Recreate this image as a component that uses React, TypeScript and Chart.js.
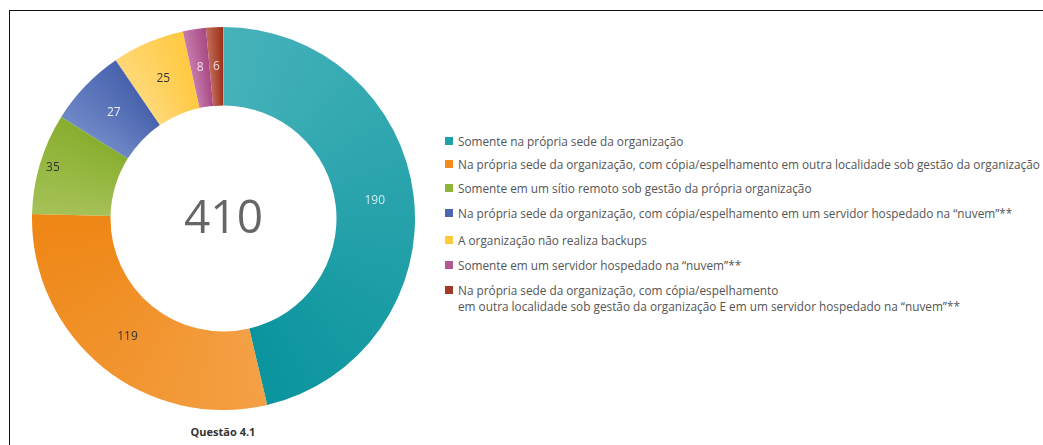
import React, { useEffect, useRef } from "react";
import { Chart, registerables } from "chart.js";

Chart.register(...registerables);

const categories: string[][] = [
  ["Somente na própria sede da organização"],
  ["Na própria sede da organização, com cópia/espelhamento em outra localidade sob gestão da organização"],
  ["Somente em um sítio remoto sob gestão da própria organização"],
  ["Na própria sede da organização, com cópia/espelhamento em um servidor hospedado na “nuvem”**"],
  ["A organização não realiza backups"],
  ["Somente em um servidor hospedado na “nuvem”**"],
  [
    "Na própria sede da organização, com cópia/espelhamento",
    "em outra localidade sob gestão da organização E em um servidor hospedado na “nuvem”**",
  ],
];
const values: number[] = [190, 119, 35, 27, 25, 8, 6];
const total = values.reduce((a, b) => a + b, 0);
const centerLabel = String(total);
const chartTitle = "Questão 4.1";

const lightColors = ["#46b2ba", "#f4a045", "#a5c257", "#6e87c6", "#ffd877", "#c47aaa", "#bf6a55"];
const darkColors = ["#0a949d", "#ee8614", "#88ae2e", "#4862ad", "#ffca42", "#a94a86", "#9c2f1a"];
const legendColors = ["#1fa1aa", "#f28a1e", "#8fb43a", "#4d66b0", "#ffc93c", "#b4568f", "#a33a28"];
const labelColors = [
  "rgba(255,255,255,0.78)",
  "#333333",
  "#333333",
  "rgba(255,255,255,0.9)",
  "#333333",
  "rgba(255,255,255,0.8)",
  "rgba(255,255,255,0.8)",
];

const FONT = "'Open Sans', sans-serif";

export default function App() {
  const ref = useRef<HTMLCanvasElement | null>(null);

  useEffect(() => {
    if (!ref.current) return;
    let cached: any = null;
    const getFill = (chart: any) => {
      if (cached) return cached;
      const ctx = chart.ctx as CanvasRenderingContext2D;
      const area = chart.chartArea;
      if (!area) return null;
      const cx = (area.left + area.right) / 2;
      const cy = (area.top + area.bottom) / 2;
      if (typeof (ctx as any).createConicGradient !== "function") return null;
      const g = (ctx as any).createConicGradient(-Math.PI / 2, cx, cy);
      let cum = 0;
      values.forEach((v, i) => {
        const a = cum / total;
        cum += v;
        const b = cum / total;
        g.addColorStop(Math.min(1, a + 0.0005), lightColors[i]);
        g.addColorStop(Math.max(0, b - 0.0005), darkColors[i]);
      });
      cached = g;
      return g;
    };

    const labelPlugin = {
      id: "segLabels",
      afterDatasetsDraw(chart: any) {
        const ctx = chart.ctx as CanvasRenderingContext2D;
        const meta = chart.getDatasetMeta(0);
        ctx.save();
        ctx.font = `12px ${FONT}`;
        ctx.textAlign = "center";
        ctx.textBaseline = "middle";
        meta.data.forEach((arc: any, i: number) => {
          const { x, y, startAngle, endAngle, innerRadius, outerRadius } = arc.getProps(
            ["x", "y", "startAngle", "endAngle", "innerRadius", "outerRadius"],
            true
          );
          const mid = (startAngle + endAngle) / 2;
          const r = i === 2 ? outerRadius * 0.93 : (innerRadius + outerRadius) / 2;
          ctx.fillStyle = labelColors[i];
          ctx.fillText(String(values[i]), x + Math.cos(mid) * r, y + Math.sin(mid) * r);
        });
        const area = chart.chartArea;
        ctx.font = `46px 'Open Sans', sans-serif`;
        ctx.fillStyle = "#666666";
        ctx.fillText(centerLabel, (area.left + area.right) / 2, (area.top + area.bottom) / 2 + 1);
        ctx.restore();
      },
    };

    const chart = new Chart(ref.current, {
      type: "doughnut",
      data: {
        labels: categories.map((c) => c.join(" ")),
        datasets: [
          {
            data: values,
            backgroundColor: (c: any) => getFill(c.chart) || legendColors[c.dataIndex],
            borderWidth: 0,
          },
        ],
      },
      options: {
        responsive: false,
        animation: false,
        cutout: "59%",
        layout: { padding: 0 },
        plugins: {
          legend: { display: false },
          tooltip: { enabled: false },
        },
      },
      plugins: [labelPlugin],
    });
    return () => chart.destroy();
  }, []);

  const rowTops = [141, 164, 188, 213, 240, 265, 290];

  return (
    <div
      style={{
        position: "absolute",
        left: 0,
        top: 0,
        width: 1043,
        height: 445,
        background: "#fff",
        overflow: "hidden",
        fontFamily: FONT,
      }}
    >
      <div
        style={{
          position: "absolute",
          left: 9,
          top: 10,
          width: 1043,
          height: 445,
          borderTop: "1px solid #111",
          borderLeft: "1px solid #111",
        }}
      />
      <canvas
        ref={ref}
        width={383}
        height={383}
        style={{ position: "absolute", left: 32, top: 27, width: 383, height: 383 }}
      />
      <div
        style={{
          position: "absolute",
          left: 123,
          width: 200,
          top: 424,
          textAlign: "center",
          fontSize: 11,
          fontWeight: 700,
          color: "#333",
          lineHeight: "16px",
        }}
      >
        {chartTitle}
      </div>
      {categories.map((lines, i) => (
        <div key={i}>
          <div
            style={{
              position: "absolute",
              left: 445,
              top: rowTops[i] - 4,
              width: 8,
              height: 8,
              background: legendColors[i],
            }}
          />
          {lines.map((t, j) => (
            <div
              key={j}
              style={{
                position: "absolute",
                left: 458,
                top: rowTops[i] - 8 + j * 16,
                fontSize: 11.8,
                lineHeight: "16px",
                color: "#555",
                whiteSpace: "nowrap",
              }}
            >
              {t}
            </div>
          ))}
        </div>
      ))}
    </div>
  );
}
